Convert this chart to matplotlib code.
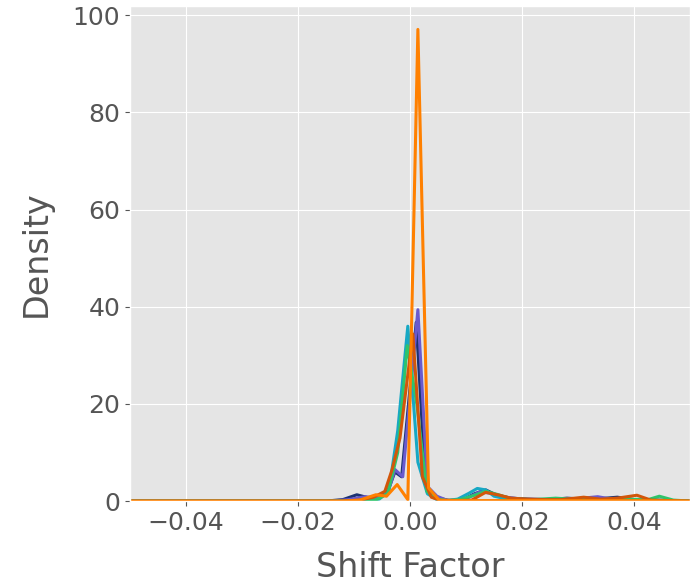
import matplotlib
matplotlib.use('Agg')
import matplotlib.pyplot as plt

plt.style.use('ggplot')

# density curves, one per series
navy_x = [-0.05, -0.015, -0.012, -0.0095, -0.0075, -0.0055, -0.004, -0.0027, -0.0015, 0.0011, 0.0028, 0.0045, 0.007,
          0.0095, 0.0115, 0.0135, 0.0155, 0.018, 0.021, 0.025, 0.028, 0.031, 0.034, 0.037, 0.040, 0.043, 0.05]
navy_y = [0, 0, 0.3, 1.3, 0.7, 1.0, 2.0, 6.0, 5.0, 36.8, 3.0, 0.8, 0.1,
          0.3, 1.5, 2.3, 1.2, 0.6, 0.4, 0.3, 0.6, 0.4, 0.5, 0.8, 0.3, 0.2, 0]

purple_x = [-0.05, -0.014, -0.011, -0.008, -0.006, -0.004, -0.0027, -0.0013, 0.0014, 0.0031, 0.0048, 0.0065, 0.009,
            0.0105, 0.0125, 0.0145, 0.017, 0.02, 0.024, 0.027, 0.030, 0.0335, 0.036, 0.04, 0.05]
purple_y = [0, 0, 0.3, 0.9, 0.6, 1.5, 6.5, 5.0, 39.4, 3.0, 1.0, 0.2, 0.1,
            0.8, 1.9, 1.6, 0.8, 0.4, 0.3, 0.5, 0.5, 0.9, 0.4, 0.3, 0]

cyan_x = [-0.05, -0.012, -0.008, -0.0055, -0.0038, -0.0022, -0.0004, 0.0014, 0.0031, 0.0048, 0.0065, 0.0085,
          0.0105, 0.012, 0.0135, 0.015, 0.017, 0.02, 0.025, 0.03, 0.035, 0.04, 0.05]
cyan_y = [0, 0, 0.2, 0.4, 2.0, 14.5, 36.0, 8.0, 1.5, 0.3, 0.1, 0.4,
          1.6, 2.6, 2.3, 1.0, 0.5, 0.3, 0.2, 0.4, 0.3, 0.3, 0]

green_x = [-0.05, -0.01, -0.006, -0.004, -0.0022, -0.0005, 0.0012, 0.003, 0.0048, 0.0065, 0.009, 0.0115, 0.0135,
           0.0155, 0.018, 0.022, 0.026, 0.03, 0.034, 0.038, 0.0425, 0.0445, 0.047, 0.05]
green_y = [0, 0, 0.3, 1.5, 10, 32, 20, 2.0, 0.4, 0.1, 0.3, 1.2, 2.0,
           1.4, 0.5, 0.3, 0.6, 0.3, 0.3, 0.4, 0.3, 1.0, 0.2, 0]

brown_x = [-0.05, -0.012, -0.009, -0.0065, -0.0045, -0.0032, -0.0018, 0.0005, 0.0022, 0.0038, 0.0055, 0.008,
           0.011, 0.0135, 0.016, 0.018, 0.021, 0.024, 0.027, 0.031, 0.034, 0.037, 0.0405, 0.043, 0.05]
brown_y = [0, 0, 0.2, 0.8, 2.0, 6.5, 13.0, 34.4, 5.0, 0.8, 0.1, 0.1,
           0.2, 1.8, 1.2, 0.6, 0.4, 0.3, 0.3, 0.8, 0.4, 0.6, 1.2, 0.2, 0]

orange_x = [-0.05, -0.012, -0.009, -0.0061, -0.0042, -0.0023, -0.0004, 0.0014, 0.0033, 0.0052, 0.01, 0.02, 0.03,
            0.04, 0.05]
orange_y = [0, 0, 0.2, 1.3, 1.0, 3.4, 0.3, 97.1, 2.7, 0.2, 0.1, 0.1, 0.1,
            0.1, 0]

series = [(navy_x, navy_y, '#1c3272'),
          (purple_x, purple_y, '#6a5acd'),
          (cyan_x, cyan_y, '#17a8c4'),
          (green_x, green_y, '#2fc46a'),
          (brown_x, brown_y, '#d2560a'),
          (orange_x, orange_y, '#ff8000')]

fig = plt.figure(figsize=(6.95, 5.84), dpi=100)
ax = fig.add_axes([0.187, 0.142, 0.806, 0.848])
for xs, ys, c in series:
    ax.plot(xs, ys, color=c, lw=2.2)

ax.set_xlim(-0.05, 0.05)
ax.set_ylim(0, None)
ax.set_xticks([-0.04, -0.02, 0.0, 0.02, 0.04])
ax.set_yticks([0, 20, 40, 60, 80, 100])
ax.tick_params(labelsize=18, colors='#555555')
ax.set_xlabel('Shift Factor', fontsize=24, color='#555555', labelpad=12)
ax.set_ylabel('Density', fontsize=24, color='#555555', labelpad=14)

fig.savefig('out.png', dpi=100)
